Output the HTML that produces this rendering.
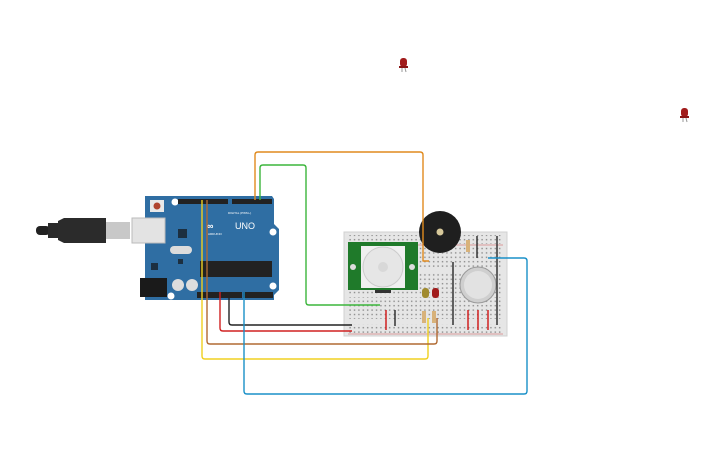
<!DOCTYPE html>
<html><head><meta charset="utf-8"><style>
html,body{margin:0;padding:0;background:#fff;}
svg{display:block;font-family:"Liberation Sans",sans-serif;}
</style></head><body>
<svg width="725" height="453" viewBox="0 0 725 453" xmlns="http://www.w3.org/2000/svg">
<defs>
<pattern id="holes" x="348" y="0" width="4.4" height="4.4" patternUnits="userSpaceOnUse">
<rect x="1.4" y="1.4" width="1.4" height="1.4" fill="#8a8a8a"/>
</pattern>
</defs>
<!-- loose LEDs -->
<g><rect x="400" y="58" width="7" height="9" rx="3" fill="#a11c1c"/><rect x="399" y="66" width="9" height="2" fill="#8a1515"/><line x1="402" y1="68" x2="402" y2="72" stroke="#999"/><line x1="405" y1="68" x2="406" y2="72" stroke="#999"/></g>
<g><rect x="681" y="108" width="7" height="9" rx="3" fill="#a11c1c"/><rect x="680" y="116" width="9" height="2" fill="#8a1515"/><line x1="683" y1="118" x2="683" y2="122" stroke="#999"/><line x1="686" y1="118" x2="687" y2="122" stroke="#999"/></g>

<!-- USB cable -->
<rect x="36" y="226" width="14" height="9" rx="4" fill="#222"/>
<rect x="48" y="223" width="10" height="15" fill="#2a2a2a"/>
<path d="M58 221 L64 218 L106 218 L106 243 L64 243 L58 240 Z" fill="#2b2b2b"/>
<rect x="106" y="222" width="24" height="17" fill="#c8c8c8"/>

<!-- Arduino board -->
<path d="M145 196 L272 196 L274 199 L274 224 L279 229 L279 290 L274 295 L274 300 L145 300 Z" fill="#2f6ea3"/>
<rect x="132" y="218" width="33" height="25" fill="#e3e3e3" stroke="#bbb"/>
<circle cx="175" cy="202" r="3.5" fill="#fff"/><circle cx="273" cy="232" r="3.5" fill="#fff"/><circle cx="273" cy="286" r="3.5" fill="#fff"/><circle cx="171" cy="296" r="3.5" fill="#fff"/>
<rect x="150" y="200" width="14" height="12" fill="#e8e8e8"/><circle cx="157" cy="206" r="3.5" fill="#b0442e"/>
<rect x="178" y="199" width="50" height="5" fill="#222"/><rect x="232" y="199" width="40" height="5" fill="#222"/>
<rect x="197" y="292" width="45" height="6" fill="#222"/><rect x="243" y="292" width="30" height="6" fill="#222"/>
<rect x="178" y="229" width="9" height="9" fill="#1c2f40"/>
<text x="207" y="229" font-size="9" font-weight="bold" fill="#fff">∞</text>
<text x="235" y="229" font-size="9" fill="#fff">UNO</text>
<text x="208" y="235" font-size="3" fill="#fff">ARDUINO</text>
<text x="228" y="214" font-size="3" fill="#fff">DIGITAL (PWM~)</text>
<rect x="170" y="246" width="22" height="8" rx="4" fill="#dcdcdc"/>
<rect x="151" y="263" width="7" height="7" fill="#1c2f40"/>
<rect x="178" y="259" width="5" height="5" fill="#1c2f40"/>
<rect x="200" y="261" width="72" height="16" fill="#222"/>
<rect x="140" y="278" width="27" height="19" fill="#1a1a1a"/>
<circle cx="178" cy="285" r="6" fill="#ddd"/><circle cx="192" cy="285" r="6" fill="#ddd"/>

<!-- breadboard -->
<rect x="344" y="232" width="163" height="104" fill="#e6e6e6" stroke="#d0d0d0"/>
<rect x="348" y="235" width="155" height="9" fill="url(#holes)"/>
<rect x="348" y="247" width="155" height="22" fill="url(#holes)"/>
<rect x="348" y="272" width="155" height="22" fill="url(#holes)"/>
<rect x="348" y="297" width="155" height="22" fill="url(#holes)"/>
<rect x="348" y="324" width="155" height="9" fill="url(#holes)"/>
<line x1="348" y1="245" x2="503" y2="245" stroke="#d05050" stroke-width="0.6"/>
<line x1="348" y1="334" x2="503" y2="334" stroke="#d05050" stroke-width="0.6"/>

<!-- PIR -->
<rect x="348" y="242" width="70" height="48" fill="#1f7a2a"/>
<rect x="361" y="246" width="44" height="42" fill="#f0f0f0"/>
<circle cx="383" cy="267" r="20" fill="#e6e6e6" stroke="#ccc"/>
<circle cx="383" cy="267" r="5" fill="#d8d8d8"/>
<circle cx="353" cy="267" r="3" fill="#ddd"/><circle cx="412" cy="267" r="3" fill="#ddd"/>
<rect x="375" y="290" width="16" height="3" fill="#333"/>

<!-- buzzer -->
<circle cx="440" cy="232" r="21" fill="#1f1f1f"/>
<circle cx="440" cy="232" r="3.5" fill="#d7c89a"/>

<!-- resistor top -->
<rect x="466" y="240" width="4" height="12" fill="#d8b27a"/>

<!-- gas sensor -->
<circle cx="478" cy="285" r="18" fill="#cfcfcf" stroke="#999"/>
<circle cx="478" cy="285" r="14" fill="#e2e2e2"/>

<!-- LEDs on board -->
<rect x="422" y="288" width="7" height="10" rx="3" fill="#a08a2e"/>
<rect x="432" y="288" width="7" height="10" rx="3" fill="#a11c1c"/>
<rect x="422" y="311" width="4" height="12" fill="#d8b27a"/>
<rect x="432" y="311" width="4" height="12" fill="#d8b27a"/>

<!-- breadboard jumpers -->
<g stroke-width="1.5" fill="none">
<line x1="453" y1="262" x2="453" y2="325" stroke="#333"/>
<line x1="477" y1="236" x2="477" y2="258" stroke="#333"/>
<line x1="497" y1="236" x2="497" y2="325" stroke="#333"/>
<line x1="386" y1="310" x2="386" y2="330" stroke="#d02020"/>
<line x1="395" y1="310" x2="395" y2="326" stroke="#333"/>
<line x1="468" y1="310" x2="468" y2="330" stroke="#d02020"/>
<line x1="478" y1="310" x2="478" y2="330" stroke="#d02020"/>
<line x1="488" y1="310" x2="488" y2="330" stroke="#d02020"/>
</g>

<!-- wires -->
<g fill="none" stroke-width="1.4" stroke-linejoin="round">
<path d="M255 200 V155 Q255 152 258 152 H420 Q423 152 423 155 V261 H429" stroke="#e08a1e"/>
<path d="M260 200 V168 Q260 165 263 165 H303 Q306 165 306 168 V302 Q306 305 309 305 H380" stroke="#3cb53c"/>
<path d="M202 200 V356 Q202 359 205 359 H425 Q428 359 428 356 V318" stroke="#f0d020"/>
<path d="M207 200 V341 Q207 344 210 344 H434 Q437 344 437 341 V318" stroke="#b06a32"/>
<path d="M220 292 V328 Q220 331 223 331 H352" stroke="#d02020"/>
<path d="M229 292 V322 Q229 325 232 325 H352" stroke="#222"/>
<path d="M244 292 V391 Q244 394 247 394 H524 Q527 394 527 391 V261 Q527 258 524 258 H488" stroke="#1a90c8"/>
</g>
</svg>
</body></html>
